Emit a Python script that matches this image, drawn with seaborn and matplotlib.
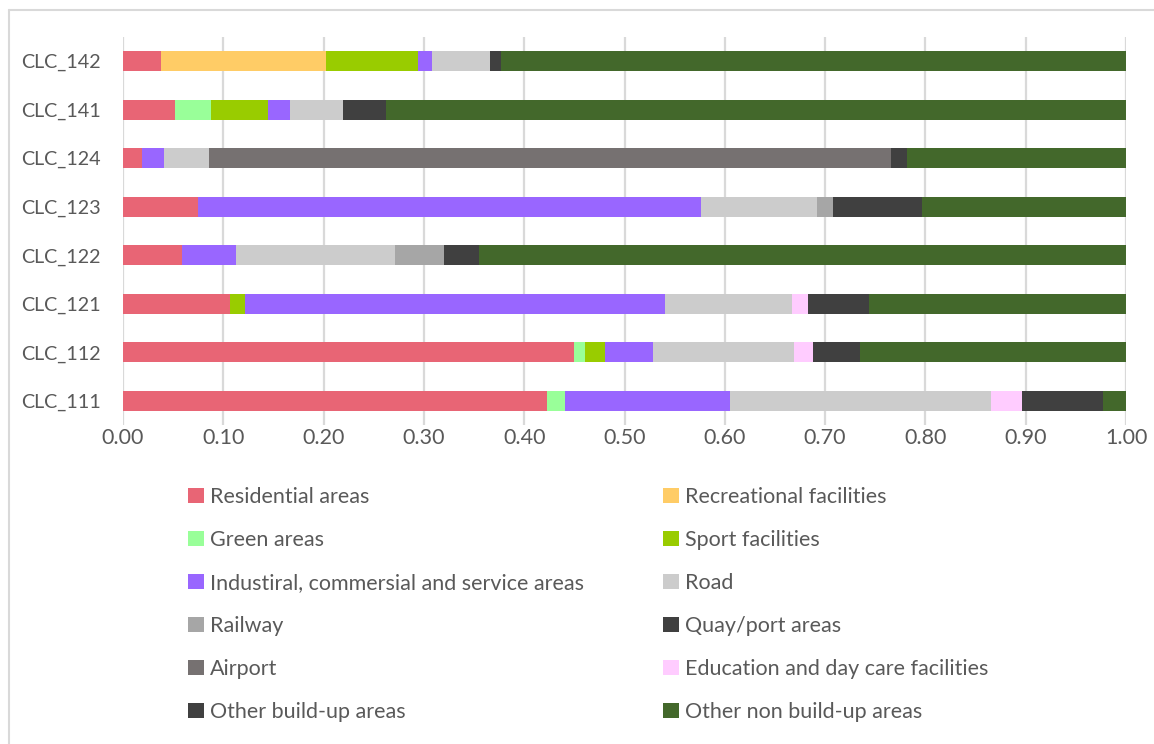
import numpy as np
import pandas as pd
import matplotlib
matplotlib.use("Agg")
import matplotlib.pyplot as plt
from matplotlib.patches import Patch
from matplotlib.lines import Line2D
import seaborn as sns

# Land-cover classes (top to bottom)
categories = ["CLC_142", "CLC_141", "CLC_124", "CLC_123",
              "CLC_122", "CLC_121", "CLC_112", "CLC_111"]

# Share of each land-use type within every class
residential   = [0.0375, 0.0515, 0.0186, 0.0751, 0.0591, 0.1063, 0.4492, 0.4232]
recreational  = [0.1645, 0.0,    0.0,    0.0,    0.0,    0.0,    0.0,    0.0]
green_areas   = [0.0,    0.0359, 0.0,    0.0,    0.0,    0.0,    0.0110, 0.0170]
sport         = [0.0917, 0.0568, 0.0,    0.0,    0.0,    0.0150, 0.0199, 0.0]
industrial    = [0.0139, 0.0219, 0.0219, 0.5016, 0.0532, 0.4194, 0.0488, 0.1651]
road          = [0.0588, 0.0528, 0.0449, 0.1157, 0.1585, 0.1264, 0.1402, 0.2601]
railway       = [0.0,    0.0,    0.0,    0.0159, 0.0488, 0.0,    0.0,    0.0]
quay_port     = [0.0,    0.0,    0.0,    0.0887, 0.0349, 0.0,    0.0,    0.0]
airport       = [0.0,    0.0,    0.6807, 0.0,    0.0,    0.0,    0.0,    0.0]
education     = [0.0,    0.0,    0.0,    0.0,    0.0,    0.0162, 0.0191, 0.0309]
other_buildup = [0.0100, 0.0429, 0.0160, 0.0,    0.0,    0.0606, 0.0468, 0.0805]
other_nonbuild = [0.6236, 0.7382, 0.2179, 0.2030, 0.6455, 0.2561, 0.2650, 0.0232]

series_names = ["Residential areas", "Recreational facilities", "Green areas",
                "Sport facilities", "Industiral, commersial and service areas",
                "Road", "Railway", "Quay/port areas", "Airport",
                "Education and day care facilities", "Other build-up areas",
                "Other non build-up areas"]
series_values = [residential, recreational, green_areas, sport, industrial, road,
                 railway, quay_port, airport, education, other_buildup, other_nonbuild]
series_colors = ["#E86575", "#FFCC66", "#99FF99", "#99CC00", "#9966FF", "#CCCCCC",
                 "#A6A6A6", "#404040", "#767171", "#FFCCFF", "#404040", "#43682B"]

df = pd.DataFrame(dict(zip(series_names, series_values)), index=categories)
cum = df.cumsum(axis=1)

sns.set_theme(style="white")
plt.rcParams["font.family"] = ["Lato", "DejaVu Sans"]
text_color = "#595959"
grid_color = "#D9D9D9"

W, H = 1154, 744
fig = plt.figure(figsize=(W / 100, H / 100), dpi=100)
fig.patch.set_facecolor("white")

ax = fig.add_axes([123 / W, 1 - 425.3 / H, (1126 - 123) / W, (425.3 - 36.7) / H])

# stacked bars: draw cumulative totals from the outermost layer inwards
for name, color in zip(reversed(series_names), reversed(series_colors)):
    sns.barplot(x=cum[name].values, y=categories, order=categories, orient="h",
                color=color, saturation=1, width=0.41, linewidth=0, ax=ax,
                zorder=3)

ax.set_xlim(0, 1.0)
ax.set_xticks(np.arange(0, 1.01, 0.1))
ax.set_xticklabels([f"{v:.2f}" for v in np.arange(0, 1.01, 0.1)])
ax.xaxis.grid(True, color=grid_color, linewidth=1.6, zorder=0)
ax.yaxis.grid(False)
ax.set_axisbelow(True)
for s in ax.spines.values():
    s.set_visible(False)
ax.set_xlabel("")
ax.set_ylabel("")
ax.tick_params(axis="x", length=0, pad=2, labelsize=15.5, labelcolor=text_color)
ax.tick_params(axis="y", length=0, pad=16, labelsize=14.2, labelcolor=text_color)

# legend in two columns, read row-wise
handles = [Patch(facecolor=c, edgecolor="none") for c in series_colors]
fs = 15.5
fs_px = fs * 100 / 72
common = dict(frameon=False, fontsize=fs, labelcolor=text_color, borderpad=0,
              borderaxespad=0, handlelength=16 / fs_px, handleheight=16 / fs_px,
              handletextpad=6 / fs_px, labelspacing=1.07, loc="upper left")
leg1 = fig.legend(handles[0::2], series_names[0::2],
                  bbox_to_anchor=(188 / W, 1 - 487 / H), **common)
leg2 = fig.legend(handles[1::2], series_names[1::2],
                  bbox_to_anchor=(663 / W, 1 - 487 / H), **common)

# chart-area border
fig.add_artist(Line2D([9 / W, 9 / W], [1 - 10 / H, 0], transform=fig.transFigure,
                      color=grid_color, linewidth=1.5))
fig.add_artist(Line2D([9 / W, 1], [1 - 10 / H, 1 - 10 / H], transform=fig.transFigure,
                      color=grid_color, linewidth=1.5))

fig.savefig("out.png", dpi=100, facecolor="white")
